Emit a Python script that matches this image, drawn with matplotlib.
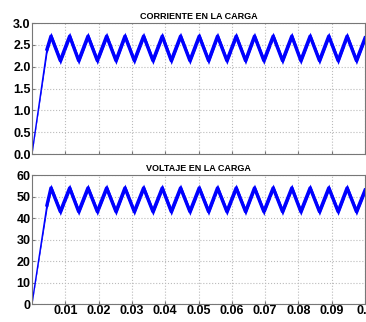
import numpy as np
import matplotlib.pyplot as plt

# vertices: start, ramp end, then peaks/troughs (180 Hz ripple)
t = [0.0, 0.0045,
     0.0057, 0.0085, 0.0113, 0.0140, 0.0168, 0.0196, 0.0224, 0.0252, 0.0279, 0.0307,
     0.0335, 0.0363, 0.0391, 0.0418, 0.0446, 0.0474, 0.0502, 0.0530, 0.0557, 0.0585,
     0.0613, 0.0641, 0.0668, 0.0696, 0.0724, 0.0752, 0.0780, 0.0807, 0.0835, 0.0863,
     0.0891, 0.0919, 0.0946, 0.0974, 0.1000]
corriente = [0.0, 2.40,
             2.70, 2.14, 2.70, 2.14, 2.70, 2.14, 2.70, 2.14, 2.70, 2.14,
             2.70, 2.14, 2.70, 2.14, 2.70, 2.14, 2.70, 2.14, 2.70, 2.14,
             2.70, 2.14, 2.70, 2.14, 2.70, 2.14, 2.70, 2.14, 2.70, 2.14,
             2.70, 2.14, 2.70, 2.14, 2.66]
voltaje = [0.0, 46.0,
           54.0, 43.0, 54.0, 43.0, 54.0, 43.0, 54.0, 43.0, 54.0, 43.0,
           54.0, 43.0, 54.0, 43.0, 54.0, 43.0, 54.0, 43.0, 54.0, 43.0,
           54.0, 43.0, 54.0, 43.0, 54.0, 43.0, 54.0, 43.0, 54.0, 43.0,
           54.0, 43.0, 54.0, 43.0, 53.0]
banda_i = 0.09   # half width of the high-frequency ripple band
banda_v = 1.8

xticks = [0.01, 0.02, 0.03, 0.04, 0.05, 0.06, 0.07, 0.08, 0.09, 0.1]
yticks_i = [0.0, 0.5, 1.0, 1.5, 2.0, 2.5, 3.0]
yticks_v = [0, 10, 20, 30, 40, 50, 60]

fuente = ['Liberation Sans Narrow', 'Liberation Sans', 'DejaVu Sans']
plt.rcParams['font.family'] = fuente

fig = plt.figure(figsize=(3.66, 3.22), dpi=100)
ax1 = fig.add_axes([0.0874, 0.5217, 0.910, 0.4068])
ax2 = fig.add_axes([0.0874, 0.0559, 0.910, 0.4006])

def dibujar(ax, y, banda, yticks, titulo, fmt):
    y = np.array(y)
    sub = np.array([0.0] + [banda] * (len(y) - 1))
    ax.fill_between(t, y - sub, y + sub, color='#0000ff', lw=0)
    ax.plot(t[:2], y[:2], color='#0000ff', lw=1.0)
    ax.plot(t[1:], y[1:], color='#0000ff', lw=2.4, solid_joinstyle='round')
    ax.set_xlim(0, 0.1)
    ax.set_ylim(yticks[0], yticks[-1])
    ax.set_xticks(xticks)
    ax.set_yticks(yticks)
    ax.set_yticklabels([fmt % v for v in yticks], fontsize=9, fontweight='bold')
    ax.grid(True, color='#bbbbbb', linestyle=':', linewidth=0.8)
    for s in ax.spines.values():
        s.set_color('#777777')
    ax.tick_params(direction='in', length=2, color='#777777', pad=1)
    ax.set_title(titulo, fontsize=6.5, fontweight='bold', pad=3, family=['Liberation Sans', 'DejaVu Sans'])

dibujar(ax1, corriente, banda_i, yticks_i, 'CORRIENTE EN LA CARGA', '%.1f')
dibujar(ax2, voltaje, banda_v, yticks_v, 'VOLTAJE EN LA CARGA', '%d')
ax1.set_xticklabels([])
ax2.set_xticklabels(['%g' % v for v in xticks], fontsize=9, fontweight='bold')

fig.savefig('out.png', dpi=100)
